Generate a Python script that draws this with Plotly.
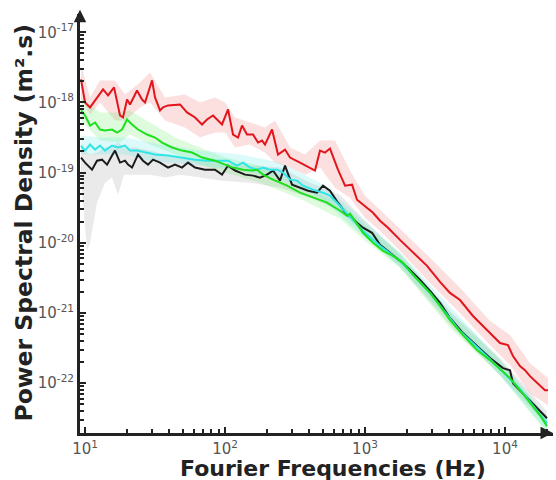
import plotly.graph_objects as go

# ---------------- data ----------------
red_f = [9.36, 10.0, 10.86, 11.79, 13.45, 14.6, 16.11, 17.78, 18.68, 19.95, 20.96, 23.52, 25.54, 26.83,
         30.11, 31.62, 34.34, 36.07, 39.17, 47.7, 53.5, 61.1, 68.5, 74.4, 82.1, 95.2, 105.1, 114.1, 123.9,
         132.3, 143.6, 158.5, 172.1, 183.8, 193.1, 216.6, 239.1, 268.3, 291.3, 343.4, 439.4, 477, 518, 562,
         641, 720, 808, 877, 1000, 1141, 1280, 1460, 1778, 2096, 2774, 3434, 4047, 4771, 5907, 7435, 9211,
         10505, 11404, 12797, 13901, 15090, 17783, 19307, 20286]
red_p = [2.13e-18, 1.0e-18, 8.5e-19, 1.07e-18, 1.53e-18, 1.26e-18, 1.64e-18, 6.52e-19, 6.11e-19, 1.10e-18,
         9.36e-19, 1.48e-18, 1.10e-18, 1.0e-18, 2.06e-18, 1.18e-18, 7.69e-19, 8.5e-19, 9.06e-19, 9.36e-19,
         7.2e-19, 6.11e-19, 4.85e-19, 5.72e-19, 6.52e-19, 4.85e-19, 7.94e-19, 3.49e-19, 3.16e-19, 4.69e-19,
         3.49e-19, 3.49e-19, 2.68e-19, 2.86e-19, 2.51e-19, 4.11e-19, 1.81e-19, 2.13e-19, 1.64e-19, 1.39e-19,
         1.07e-19, 2.06e-19, 1.93e-19, 2.20e-19, 1.10e-19, 6.52e-20, 6.74e-20, 4.11e-20, 3.27e-20, 2.68e-20,
         2.06e-20, 1.64e-20, 1.10e-20, 7.94e-21, 4.69e-21, 2.77e-21, 1.93e-21, 1.53e-21, 9.06e-22, 5.72e-22,
         3.73e-22, 3.49e-22, 2.43e-22, 1.75e-22, 1.53e-22, 1.26e-22, 9.06e-23, 7.94e-23, 7.94e-23]

black_f = [9.36, 10.0, 11.22, 12.18, 13.22, 14.36, 15.59, 16.38, 17.78, 19.31, 20.29, 21.66, 23.91, 25.96,
           28.18, 30.6, 34.34, 39.17, 43.94, 49.3, 54.4, 61.1, 71.97, 84.8, 95.2, 105.1, 117.9, 139, 158.5,
           177.8, 199.5, 220.3, 247.1, 268.3, 301.1, 343.4, 391.7, 454.2, 501.2, 562, 641, 743.5, 808, 877,
           967.6, 1122, 1280, 1509, 1778, 2096, 2472, 2913, 3434, 4047, 5012, 6310, 7816, 9676, 10857, 11404,
           12797, 15090, 17783, 19953]
black_p = [1.64e-19, 1.39e-19, 1.10e-19, 1.48e-19, 1.53e-19, 1.30e-19, 1.75e-19, 2.06e-19, 1.39e-19, 1.48e-19,
           1.30e-19, 1.18e-19, 1.81e-19, 1.48e-19, 1.30e-19, 1.53e-19, 1.39e-19, 1.18e-19, 1.30e-19, 1.18e-19,
           1.39e-19, 1.18e-19, 1.10e-19, 1.10e-19, 9.36e-20, 1.26e-19, 1.07e-19, 9.36e-20, 9.06e-20, 8.49e-20,
           9.36e-20, 1.07e-19, 7.69e-20, 1.26e-19, 6.74e-20, 6.11e-20, 5.53e-20, 5.18e-20, 6.52e-20, 5.53e-20,
           3.73e-20, 2.51e-20, 2.28e-20, 1.93e-20, 1.64e-20, 1.39e-20, 9.36e-21, 7.2e-21, 5.53e-21, 4.11e-21,
           2.96e-21, 2.06e-21, 1.39e-21, 8.49e-22, 5.18e-22, 3.38e-22, 2.28e-22, 1.64e-22, 1.53e-22, 1.0e-22,
           7.94e-23, 5.72e-23, 3.98e-23, 3.16e-23]

cyan_f = [9.36, 10.0, 10.86, 11.79, 12.8, 13.9, 15.59, 17.2, 19.31, 20.96, 23.52, 26.83, 31.62, 39.17, 49.3,
          61.1, 75.6, 95.2, 105.1, 121.8, 134.5, 150.9, 169.3, 186.8, 209.6, 235.2, 259.6, 291.3, 326.8, 360.7,
          425.3, 501.2, 562, 631, 696.5, 756.2, 821, 967.6, 1280, 1778, 2913, 4771, 7816, 12797, 19953]
cyan_p = [2.43e-19, 2.06e-19, 2.51e-19, 2.13e-19, 2.43e-19, 2.06e-19, 2.43e-19, 2.28e-19, 2.43e-19, 2.06e-19,
          2.06e-19, 1.93e-19, 1.81e-19, 1.75e-19, 1.64e-19, 1.53e-19, 1.48e-19, 1.48e-19, 1.48e-19, 1.26e-19,
          1.39e-19, 1.18e-19, 1.10e-19, 1.18e-19, 1.10e-19, 1.10e-19, 1.0e-19, 7.94e-20, 7.69e-20, 6.52e-20,
          5.72e-20, 5.18e-20, 4.69e-20, 3.73e-20, 2.96e-20, 2.51e-20, 2.13e-20, 1.48e-20, 9.06e-21, 5.53e-21,
          1.93e-21, 5.53e-22, 2.20e-22, 8.2e-23, 2.68e-23]

green_f = [9.36, 10.0, 10.86, 11.79, 12.8, 13.9, 15.59, 16.93, 18.38, 19.95, 21.66, 23.91, 27.73, 31.62, 35.48,
           41.82, 49.3, 58.1, 68.5, 84.8, 100, 114.1, 134.5, 155.9, 169.3, 186.8, 220.3, 277.3, 343.4, 425.3,
           535.4, 662.7, 743.5, 781.5, 877, 967.6, 1141, 1345, 1585, 1868, 2203, 2596, 2913, 3434, 4047, 5012,
           6310, 7816, 9676, 10857, 12797, 15090, 17783, 19953]
green_p = [7.69e-19, 6.52e-19, 4.69e-19, 5.18e-19, 4.11e-19, 3.98e-19, 4.11e-19, 3.73e-19, 4.11e-19, 5.72e-19,
           4.85e-19, 4.11e-19, 3.49e-19, 3.16e-19, 2.68e-19, 2.28e-19, 2.06e-19, 1.93e-19, 1.64e-19, 1.48e-19,
           1.30e-19, 1.18e-19, 1.10e-19, 1.07e-19, 1.10e-19, 9.36e-20, 7.94e-20, 6.52e-20, 5.18e-20, 4.39e-20,
           3.73e-20, 2.86e-20, 2.43e-20, 2.6e-20, 1.81e-20, 1.39e-20, 1.0e-20, 7.69e-21, 6.52e-21, 5.18e-21,
           3.49e-21, 2.43e-21, 1.93e-21, 1.26e-21, 7.94e-22, 4.85e-22, 2.96e-22, 2.13e-22, 1.48e-22, 1.18e-22,
           7.94e-23, 5.18e-23, 3.49e-23, 2.43e-23]

# shaded spread bands (upper / lower envelopes)
red_band_f = [9.36, 10.86, 12.8, 16.38, 19.31, 24.7, 29.1, 37.3, 51.8, 66.3, 84.8, 100, 117.9, 150.9, 193.1,
              227.6, 291.3, 372.8, 477, 610.6, 781.5, 1000, 1280, 1778, 2913, 4771, 7816, 10857, 15090, 20286]
red_band_hi = [3.49e-18, 1.18e-18, 2.06e-18, 2.06e-18, 1.30e-18, 1.93e-18, 2.68e-18, 1.18e-18, 1.30e-18, 1.0e-18,
               1.18e-18, 1.0e-18, 6.11e-19, 5.18e-19, 4.39e-19, 5.53e-19, 2.28e-19, 1.81e-19, 2.86e-19, 2.86e-19,
               1.07e-19, 4.69e-20, 2.96e-20, 1.58e-20, 6.11e-21, 2.28e-21, 7.69e-22, 4.85e-22, 1.93e-22, 1.18e-22]
red_band_lo = [1.18e-18, 6.74e-19, 1.0e-18, 5.53e-19, 5.53e-19, 8.5e-19, 1.0e-18, 5.53e-19, 4.39e-19, 3.16e-19,
               3.73e-19, 3.73e-19, 2.28e-19, 2.51e-19, 1.93e-19, 1.39e-19, 1.18e-19, 9.36e-20, 1.18e-19, 6.11e-20,
               4.39e-20, 2.28e-20, 1.48e-20, 7.69e-21, 2.68e-21, 1.0e-21, 3.49e-22, 1.81e-22, 7.2e-23, 4.85e-23]

black_band_f = [9.36, 10.33, 10.86, 12.18, 13.9, 15.59, 17.2, 18.99, 22.76, 29.1, 37.3, 47.7, 66.3, 92.1,
                150.9, 247.1, 404.6, 662.7, 1000, 1778, 4047, 9211, 19953]
black_band_hi = [2.28e-19, 1.93e-19, 1.81e-19, 1.93e-19, 2.28e-19, 2.43e-19, 2.68e-19, 2.28e-19, 2.28e-19,
                 2.06e-19, 1.81e-19, 1.64e-19, 1.53e-19, 1.39e-19, 1.26e-19, 1.18e-19, 7.2e-20, 4.85e-20,
                 2.06e-20, 6.74e-21, 1.07e-21, 2.28e-22, 3.98e-23]
black_band_lo = [8.49e-20, 7.69e-21, 1.0e-20, 3.73e-20, 7.2e-20, 8.49e-20, 4.85e-20, 9.36e-20, 9.36e-20,
                 9.36e-20, 8.49e-20, 9.36e-20, 8.49e-20, 7.69e-20, 7.2e-20, 6.11e-20, 4.39e-20, 2.86e-20,
                 1.30e-20, 4.54e-21, 6.74e-22, 1.30e-22, 2.51e-23]

green_band_f = [9.36, 12.8, 17.78, 20.96, 29.1, 43.94, 66.3, 100, 177.8, 343.4, 662.7, 1000, 1778, 4047, 9211, 19953]
green_band_hi = [1.18e-18, 7.2e-19, 7.2e-19, 7.69e-19, 5.18e-19, 3.16e-19, 2.28e-19, 1.64e-19, 1.26e-19,
                 6.52e-20, 3.73e-20, 1.81e-20, 7.2e-21, 1.0e-21, 2.13e-22, 3.16e-23]
green_band_lo = [5.53e-19, 2.86e-19, 2.68e-19, 3.49e-19, 2.51e-19, 1.81e-19, 1.30e-19, 1.0e-19, 7.2e-20,
                 4.25e-20, 2.20e-20, 1.07e-20, 4.39e-21, 6.11e-22, 1.30e-22, 1.93e-23]

cyan_band_f = [9.36, 12.8, 19.31, 29.1, 66.3, 128, 247.1, 477, 781.5, 1778, 9211, 19953]
cyan_band_hi = [3.38e-19, 3.16e-19, 3.16e-19, 2.68e-19, 2.06e-19, 1.81e-19, 1.39e-19, 7.2e-20, 3.16e-20,
                7.2e-21, 2.13e-22, 3.38e-23]
cyan_band_lo = [1.81e-19, 1.81e-19, 1.81e-19, 1.48e-19, 1.26e-19, 1.07e-19, 8.49e-20, 4.39e-20, 1.81e-20,
                4.54e-21, 1.30e-22, 2.06e-23]

x_tickvals = [10, 100, 1000, 10000]
x_ticktext = ["10<sup>1</sup>", "10<sup>2</sup>", "10<sup>3</sup>", "10<sup>4</sup>"]
y_tickvals = [1e-17, 1e-18, 1e-19, 1e-20, 1e-21, 1e-22]
y_ticktext = ["10<sup>-17</sup>", "10<sup>-18</sup>", "10<sup>-19</sup>", "10<sup>-20</sup>",
              "10<sup>-21</sup>", "10<sup>-22</sup>"]

# ---------------- figure ----------------
fig = go.Figure()

bands = [
    (red_band_f, red_band_hi, red_band_lo, "rgba(240,110,110,0.22)"),
    (black_band_f, black_band_hi, black_band_lo, "rgba(150,150,150,0.20)"),
    (green_band_f, green_band_hi, green_band_lo, "rgba(90,235,90,0.20)"),
    (cyan_band_f, cyan_band_hi, cyan_band_lo, "rgba(80,230,230,0.20)"),
]
for bf, bh, bl, col in bands:
    fig.add_trace(go.Scatter(x=bf + bf[::-1], y=bh + bl[::-1], fill="toself", fillcolor=col,
                             line=dict(width=0), mode="lines", hoverinfo="skip", showlegend=False))

lines = [
    (red_f, red_p, "#e3151c"),
    (black_f, black_p, "#1c1c1c"),
    (cyan_f, cyan_p, "#2ee6e6"),
    (green_f, green_p, "#1ee01e"),
]
for lf, lp, col in lines:
    fig.add_trace(go.Scatter(x=lf, y=lp, mode="lines", line=dict(color=col, width=2),
                             showlegend=False))

minor_x = [d * 10 ** k for k in range(0, 5) for d in range(2, 10)]
minor_y = [d * 10.0 ** k for k in range(-23, -16) for d in range(2, 10)]

axis_common = dict(showline=True, linewidth=3, linecolor="#222", showgrid=False, zeroline=False,
                   ticks="inside", ticklen=6, tickwidth=2, tickcolor="#222",
                   tickfont=dict(family="DejaVu Sans", size=15, color="#555"))

fig.update_xaxes(type="log", range=[0.964, 4.343], tickmode="array", tickvals=x_tickvals,
                 ticktext=x_ticktext,
                 minor=dict(tickmode="array", tickvals=minor_x, ticks="inside", ticklen=4,
                            tickwidth=2, tickcolor="#222", showgrid=False),
                 **axis_common)
fig.update_yaxes(type="log", range=[-22.71, -16.74], tickmode="array", tickvals=y_tickvals,
                 ticktext=y_ticktext,
                 minor=dict(tickmode="array", tickvals=minor_y, ticks="inside", ticklen=4,
                            tickwidth=2, tickcolor="#222", showgrid=False),
                 **axis_common)

# axis arrowheads
fig.add_annotation(xref="paper", yref="paper", x=0, y=1.01, ax=0, ay=12, text="", showarrow=True,
                   arrowhead=2, arrowsize=1, arrowwidth=2.5, arrowcolor="#222")
fig.add_annotation(xref="paper", yref="paper", x=1.0, y=0, ax=-12, ay=0, text="", showarrow=True,
                   arrowhead=2, arrowsize=1, arrowwidth=2.5, arrowcolor="#222")

# axis titles
fig.add_annotation(xref="paper", yref="paper", x=0, xshift=-57, y=0.5, yshift=0,
                   text="Power Spectral Density (m².s)", textangle=-90, showarrow=False,
                   font=dict(family="DejaVu Sans", size=23.5, color="#222", weight="bold"),
                   xanchor="center", yanchor="middle")
fig.add_annotation(xref="paper", yref="paper", x=0.535, y=0, yshift=-35,
                   text="Fourier Frequencies (Hz)", showarrow=False,
                   font=dict(family="DejaVu Sans", size=22, color="#222", weight="bold"),
                   xanchor="center", yanchor="middle")

fig.update_layout(width=556, height=480, paper_bgcolor="white", plot_bgcolor="white",
                  margin=dict(l=80, r=3, t=14, b=47, autoexpand=False), showlegend=False)

fig.write_html("out.html", config={"displayModeBar": False},
               post_script="document.body.style.margin='0';")
